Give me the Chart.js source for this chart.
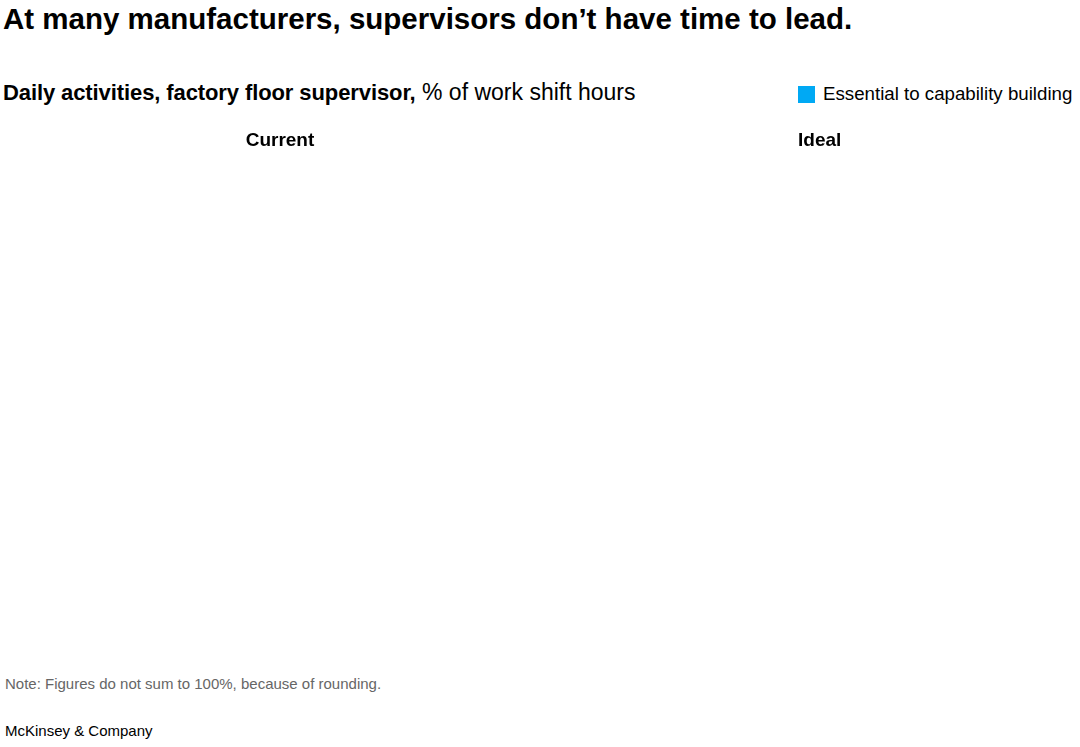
<!DOCTYPE html>
<html>
<head>
<meta charset="utf-8">
<script src="https://cdn.jsdelivr.net/npm/chart.js@4/dist/chart.umd.min.js"></script>
<style>
    html, body { margin: 0; padding: 0; background: #fff; }
    body { width: 1080px; height: 747px; position: relative; overflow: hidden;
           font-family: "Liberation Sans", Arial, sans-serif; color: #000; }
    .abs { position: absolute; white-space: nowrap; }
    #title { left: 3px; top: 2px; font-size: 29.5px; font-weight: bold; }
    #subtitle { left: 3px; top: 79px; font-size: 23px; }
    #subtitle b { font-size: 22px; letter-spacing: -0.1px; }
    #legend { left: 798px; top: 83px; font-size: 18.7px; display: flex; align-items: center; }
    #legend .swatch { width: 17px; height: 17px; margin-right: 8px; }
    #note { left: 5px; top: 675px; font-size: 15px; color: #666; }
    #source { left: 5px; top: 722px; font-size: 15px; }
    .panel { position: absolute; }
    #panel-current { left: 0; top: 129px; width: 560px; height: 530px; }
    #panel-ideal { left: 798px; top: 129px; width: 278px; height: 530px; }
</style>
</head>
<body>
<div id="title" class="abs">At many manufacturers, supervisors don’t have time to lead.</div>
<div id="subtitle" class="abs"><b>Daily activities, factory floor supervisor,</b> % of work shift hours</div>
<div id="legend" class="abs"><span class="swatch"></span><span class="legend-text"></span></div>
<div class="panel" id="panel-current"><canvas id="chart-current"></canvas></div>
<div class="panel" id="panel-ideal"><canvas id="chart-ideal"></canvas></div>
<div id="note" class="abs">Note: Figures do not sum to 100%, because of rounding.</div>
<div id="source" class="abs">McKinsey &amp; Company</div>

<script>
// The reference shows no bars in either panel, so nothing could be read off it:
// activity categories and values are left empty.
const PANELS = ['Current', 'Ideal'];
const ACTIVITIES = [];
const CURRENT_PCT = [];
const IDEAL_PCT = [];

const SERIES_LABEL = 'Essential to capability building';
const SERIES_COLOR = '#00A9F4';

document.querySelector('#legend .swatch').style.background = SERIES_COLOR;
document.querySelector('#legend .legend-text').textContent = SERIES_LABEL;

function renderPanel(canvasId, title, values, align) {
    const ctx = document.getElementById(canvasId);

    new Chart(ctx, {
        type: 'bar',
        data: {
            labels: ACTIVITIES,
            datasets: [
                {
                    label: SERIES_LABEL,
                    data: values,
                    backgroundColor: SERIES_COLOR,
                    borderWidth: 0,
                },
            ],
        },
        options: {
            indexAxis: 'y',
            responsive: true,
            maintainAspectRatio: false,
            animation: false,
            layout: { padding: 0 },
            plugins: {
                legend: { display: false },
                tooltip: { enabled: false },
                title: {
                    display: true,
                    text: title,
                    align,
                    color: '#000',
                    font: { family: '"Liberation Sans", Arial, sans-serif', size: 19, weight: 'bold' },
                    padding: { top: 0, bottom: 10 },
                },
            },
            scales: {
                x: { display: false, min: 0, max: 100 },
                y: { display: false },
            },
        },
    });
}

renderPanel('chart-current', PANELS[0], CURRENT_PCT, 'center');
renderPanel('chart-ideal', PANELS[1], IDEAL_PCT, 'start');
</script>
</body>
</html>
